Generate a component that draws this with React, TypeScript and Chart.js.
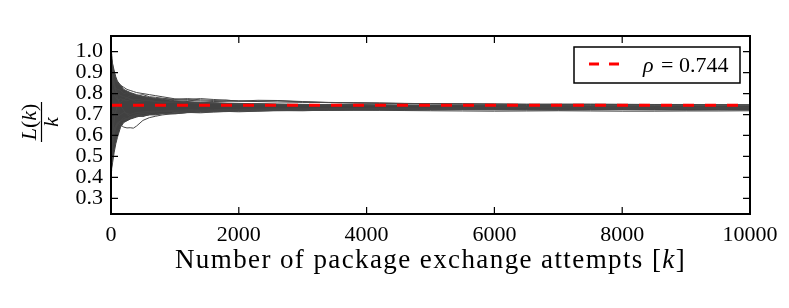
import React, { useEffect, useRef } from 'react';
import { Chart, registerables } from 'chart.js';

Chart.register(...registerables);

// ---- axis ticks ----
const xTicks = [0, 2000, 4000, 6000, 8000, 10000];
const yTicks = [0.3, 0.4, 0.5, 0.6, 0.7, 0.8, 0.9, 1.0];
const xRange = [0, 10000];
const yRange = [0.225, 1.075];

// ---- reference line ----
const rho = 0.744;
const rhoLabelSymbol = 'ρ';
const rhoLabelValue = ' = 0.744';

// ---- envelope of the bundle of runs (dense core) ----
const kEnvelope = [2, 10, 25, 50, 75, 100, 150, 200, 300, 400, 500, 700, 1000, 1300, 1700, 2200, 2800, 3500, 4500, 5500, 6500, 7500, 8500, 10000];
const upperEnvelope = [0.99, 0.97, 0.94, 0.91, 0.88, 0.86, 0.84, 0.82, 0.805, 0.795, 0.787, 0.776, 0.766, 0.76, 0.755, 0.752, 0.749, 0.747, 0.745, 0.744, 0.743, 0.742, 0.742, 0.741];
const lowerEnvelope = [0.43, 0.44, 0.47, 0.52, 0.56, 0.59, 0.64, 0.662, 0.678, 0.688, 0.696, 0.703, 0.708, 0.712, 0.716, 0.718, 0.72, 0.721, 0.722, 0.723, 0.723, 0.724, 0.724, 0.724];

// ---- individual runs L(k)/k ----
const kRuns = [10, 30, 60, 100, 150, 200, 250, 300, 350, 400, 500, 600, 700, 800, 1000, 1200, 1400, 1600, 1800, 2000, 2300, 2600, 3000, 3400, 3800, 4200, 4600, 5000, 5500, 6000, 6500, 7000, 7500, 8000, 8500, 9000, 9500, 10000];
const run1 = [0.98, 0.93, 0.88, 0.85, 0.84, 0.83, 0.82, 0.815, 0.81, 0.805, 0.80, 0.795, 0.79, 0.785, 0.775, 0.772, 0.776, 0.772, 0.768, 0.765, 0.764, 0.766, 0.760, 0.757, 0.755, 0.754, 0.752, 0.751, 0.750, 0.749, 0.748, 0.748, 0.747, 0.747, 0.746, 0.746, 0.746, 0.745];
const run2 = [0.55, 0.60, 0.64, 0.66, 0.65, 0.64, 0.636, 0.637, 0.635, 0.645, 0.672, 0.685, 0.692, 0.698, 0.705, 0.71, 0.714, 0.716, 0.719, 0.721, 0.723, 0.725, 0.726, 0.727, 0.728, 0.729, 0.729, 0.730, 0.731, 0.731, 0.732, 0.732, 0.733, 0.733, 0.733, 0.734, 0.734, 0.734];
const run3 = [0.45, 0.56, 0.62, 0.66, 0.67, 0.675, 0.68, 0.684, 0.686, 0.69, 0.694, 0.698, 0.70, 0.703, 0.706, 0.709, 0.711, 0.713, 0.714, 0.716, 0.717, 0.718, 0.719, 0.72, 0.721, 0.72, 0.719, 0.718, 0.717, 0.716, 0.717, 0.718, 0.717, 0.716, 0.716, 0.717, 0.717, 0.718];
const run4 = [0.90, 0.86, 0.82, 0.80, 0.79, 0.785, 0.78, 0.79, 0.795, 0.79, 0.785, 0.78, 0.777, 0.775, 0.77, 0.768, 0.765, 0.762, 0.763, 0.764, 0.768, 0.767, 0.762, 0.758, 0.756, 0.754, 0.753, 0.752, 0.751, 0.750, 0.749, 0.750, 0.750, 0.749, 0.748, 0.748, 0.747, 0.747];
const run5 = [0.70, 0.72, 0.70, 0.69, 0.70, 0.71, 0.705, 0.70, 0.705, 0.71, 0.712, 0.715, 0.716, 0.717, 0.72, 0.722, 0.721, 0.722, 0.724, 0.725, 0.726, 0.727, 0.726, 0.725, 0.726, 0.727, 0.728, 0.728, 0.727, 0.726, 0.726, 0.727, 0.728, 0.728, 0.729, 0.729, 0.729, 0.730];
const run6 = [0.80, 0.82, 0.79, 0.77, 0.775, 0.77, 0.765, 0.772, 0.768, 0.76, 0.765, 0.768, 0.762, 0.758, 0.76, 0.757, 0.754, 0.756, 0.753, 0.75, 0.752, 0.749, 0.748, 0.747, 0.748, 0.746, 0.745, 0.744, 0.744, 0.743, 0.742, 0.742, 0.741, 0.741, 0.74, 0.741, 0.74, 0.74];
const run7 = [0.96, 0.90, 0.84, 0.78, 0.74, 0.72, 0.70, 0.69, 0.695, 0.70, 0.705, 0.708, 0.712, 0.715, 0.714, 0.716, 0.719, 0.72, 0.722, 0.723, 0.722, 0.724, 0.726, 0.728, 0.729, 0.73, 0.731, 0.731, 0.732, 0.733, 0.733, 0.734, 0.735, 0.735, 0.735, 0.736, 0.736, 0.736];
const run8 = [0.50, 0.62, 0.70, 0.74, 0.76, 0.77, 0.78, 0.775, 0.77, 0.772, 0.768, 0.765, 0.762, 0.76, 0.758, 0.756, 0.754, 0.752, 0.75, 0.749, 0.748, 0.747, 0.746, 0.745, 0.744, 0.743, 0.742, 0.741, 0.741, 0.740, 0.739, 0.739, 0.738, 0.738, 0.738, 0.737, 0.737, 0.737];
const run9 = [0.92, 0.87, 0.83, 0.82, 0.815, 0.80, 0.805, 0.80, 0.795, 0.79, 0.795, 0.785, 0.782, 0.778, 0.772, 0.776, 0.77, 0.767, 0.769, 0.764, 0.762, 0.76, 0.758, 0.757, 0.756, 0.755, 0.753, 0.752, 0.751, 0.750, 0.749, 0.748, 0.748, 0.747, 0.747, 0.746, 0.746, 0.745];
const run10 = [0.48, 0.58, 0.63, 0.65, 0.67, 0.685, 0.68, 0.69, 0.688, 0.695, 0.69, 0.70, 0.698, 0.705, 0.703, 0.71, 0.708, 0.712, 0.715, 0.713, 0.716, 0.72, 0.718, 0.721, 0.722, 0.723, 0.722, 0.723, 0.724, 0.723, 0.722, 0.721, 0.722, 0.723, 0.722, 0.721, 0.722, 0.722];
const runs = [run1, run2, run3, run4, run5, run6, run7, run8, run9, run10];

const xTitleMain = 'Number of package exchange attempts ';
const yNumParts = [['L', true], ['(', false], ['k', true], [')', false]] as [string, boolean][];
const yDen = 'k';

const SERIF = '"Liberation Serif", "DejaVu Serif", serif';
const BAND = '#414141';
const RUN = '#474747';

const pts = (xs: number[], ys: number[]) => xs.map((x, i) => ({ x, y: ys[i] }));

const framePlugin = {
  id: 'frameTicks',
  afterDatasetsDraw(chart: any) {
    const { ctx, chartArea: a, scales } = chart;
    const xs = scales.x;
    const ys = scales.y;
    const tl = 7;
    ctx.save();
    ctx.strokeStyle = '#000';
    ctx.lineWidth = 1.2;
    xTicks.forEach((v) => {
      const px = xs.getPixelForValue(v);
      ctx.beginPath();
      ctx.moveTo(px, a.bottom);
      ctx.lineTo(px, a.bottom - tl);
      ctx.moveTo(px, a.top);
      ctx.lineTo(px, a.top + tl);
      ctx.stroke();
    });
    yTicks.forEach((v) => {
      const py = ys.getPixelForValue(v);
      ctx.beginPath();
      ctx.moveTo(a.left, py);
      ctx.lineTo(a.left + tl, py);
      ctx.moveTo(a.right, py);
      ctx.lineTo(a.right - tl, py);
      ctx.stroke();
    });
    ctx.lineWidth = 2;
    ctx.strokeRect(a.left, a.top, a.right - a.left, a.bottom - a.top);
    ctx.restore();
  },
};

const decorPlugin = {
  id: 'decor',
  afterDraw(chart: any) {
    const { ctx, chartArea: a } = chart;
    ctx.save();
    // legend box
    const bw = 166;
    const bh = 36;
    const bx = a.right - 10 - bw;
    const by = a.top + 11;
    ctx.fillStyle = '#fff';
    ctx.fillRect(bx, by, bw, bh);
    ctx.strokeStyle = '#000';
    ctx.lineWidth = 1.5;
    ctx.strokeRect(bx, by, bw, bh);
    const ly = by + bh / 2 - 1;
    ctx.strokeStyle = '#ff0000';
    ctx.lineWidth = 3;
    ctx.setLineDash([10, 10]);
    ctx.beginPath();
    ctx.moveTo(bx + 15, ly);
    ctx.lineTo(bx + 45, ly);
    ctx.stroke();
    ctx.setLineDash([]);
    ctx.fillStyle = '#000';
    ctx.textBaseline = 'alphabetic';
    ctx.textAlign = 'left';
    ctx.font = `italic 22px ${SERIF}`;
    let tx = bx + 69;
    const tb = by + 25;
    ctx.fillText(rhoLabelSymbol, tx, tb);
    tx += ctx.measureText(rhoLabelSymbol).width + 2;
    ctx.font = `22px ${SERIF}`;
    ctx.fillText(rhoLabelValue, tx, tb);

    // x title
    const cx = (a.left + a.right) / 2;
    const parts = [
      [xTitleMain, false],
      ['[', false],
      ['k', true],
      [']', false],
    ] as [string, boolean][];
    const xs = 27;
    (ctx as any).letterSpacing = '1.4px';
    let total = 0;
    const widths = parts.map(([t, it]) => {
      ctx.font = `${it ? 'italic ' : ''}${xs}px ${SERIF}`;
      const w = ctx.measureText(t).width;
      total += w;
      return w;
    });
    let px = cx - total / 2;
    parts.forEach(([t, it], i) => {
      ctx.font = `${it ? 'italic ' : ''}${xs}px ${SERIF}`;
      ctx.fillText(t, px, 268);
      px += widths[i];
    });
    (ctx as any).letterSpacing = '0px';

    // y title fraction
    ctx.translate(41.5, (a.top + a.bottom) / 2 - 3);
    ctx.rotate(-Math.PI / 2);
    const fs = 22;
    let nt = 0;
    const nw = yNumParts.map(([t, it]) => {
      ctx.font = `${it ? 'italic ' : ''}${fs}px ${SERIF}`;
      const w = ctx.measureText(t).width;
      nt += w;
      return w;
    });
    let nx = -nt / 2;
    yNumParts.forEach(([t, it], i) => {
      ctx.font = `${it ? 'italic ' : ''}${fs}px ${SERIF}`;
      ctx.fillText(t, nx, -6);
      nx += nw[i];
    });
    ctx.strokeStyle = '#000';
    ctx.lineWidth = 1.2;
    ctx.beginPath();
    ctx.moveTo(-20, 0);
    ctx.lineTo(20, 0);
    ctx.stroke();
    ctx.font = `italic ${fs}px ${SERIF}`;
    ctx.textAlign = 'center';
    ctx.fillText(yDen, 0, 16);
    ctx.restore();
  },
};

export default function App() {
  const ref = useRef<HTMLCanvasElement>(null);
  useEffect(() => {
    const canvas = ref.current as HTMLCanvasElement;
    const runSets = runs.map((r) => ({
      data: pts(kRuns, r),
      borderColor: RUN,
      borderWidth: 1,
      pointRadius: 0,
      fill: false,
    }));
    const chart = new Chart(canvas, {
      type: 'line',
      data: {
        datasets: [
          {
            data: [
              { x: xRange[0], y: rho },
              { x: xRange[1], y: rho },
            ],
            borderColor: '#ff0000',
            borderWidth: 3,
            borderDash: [11, 11],
            pointRadius: 0,
            fill: false,
          },
          ...runSets,
          {
            data: pts(kEnvelope, upperEnvelope),
            borderColor: BAND,
            borderWidth: 1,
            backgroundColor: BAND,
            pointRadius: 0,
            fill: '+1',
          },
          {
            data: pts(kEnvelope, lowerEnvelope),
            borderColor: BAND,
            borderWidth: 1,
            pointRadius: 0,
            fill: false,
          },
        ],
      } as any,
      options: {
        animation: false,
        responsive: false,
        devicePixelRatio: 1,
        layout: { padding: { left: 0, top: 36, right: 39, bottom: 0 } },
        plugins: { legend: { display: false }, tooltip: { enabled: false } },
        elements: { line: { tension: 0 }, point: { radius: 0 } },
        scales: {
          x: {
            type: 'linear',
            min: xRange[0],
            max: xRange[1],
            grid: { display: false, drawTicks: false },
            border: { display: false },
            afterBuildTicks: (s: any) => {
              s.ticks = xTicks.map((v) => ({ value: v }));
            },
            afterFit: (s: any) => {
              s.height = 94;
            },
            ticks: {
              font: { family: SERIF, size: 22 },
              color: '#000',
              padding: 8,
              maxRotation: 0,
              autoSkip: false,
              callback: (v: any) => String(v),
            },
          },
          y: {
            type: 'linear',
            min: yRange[0],
            max: yRange[1],
            grid: { display: false, drawTicks: false },
            border: { display: false },
            afterBuildTicks: (s: any) => {
              s.ticks = yTicks.map((v) => ({ value: v }));
            },
            afterFit: (s: any) => {
              s.width = 111;
            },
            ticks: {
              font: { family: SERIF, size: 22 },
              color: '#000',
              padding: 8,
              autoSkip: false,
              callback: (v: any) => Number(v).toFixed(1),
            },
          },
        },
      } as any,
      plugins: [framePlugin, decorPlugin],
    });
    return () => chart.destroy();
  }, []);
  return (
    <div style={{ position: 'fixed', left: 0, top: 0, width: 789, height: 308, background: '#fff' }}>
      <canvas ref={ref} width={789} height={308} style={{ display: 'block', width: 789, height: 308 }} />
    </div>
  );
}
